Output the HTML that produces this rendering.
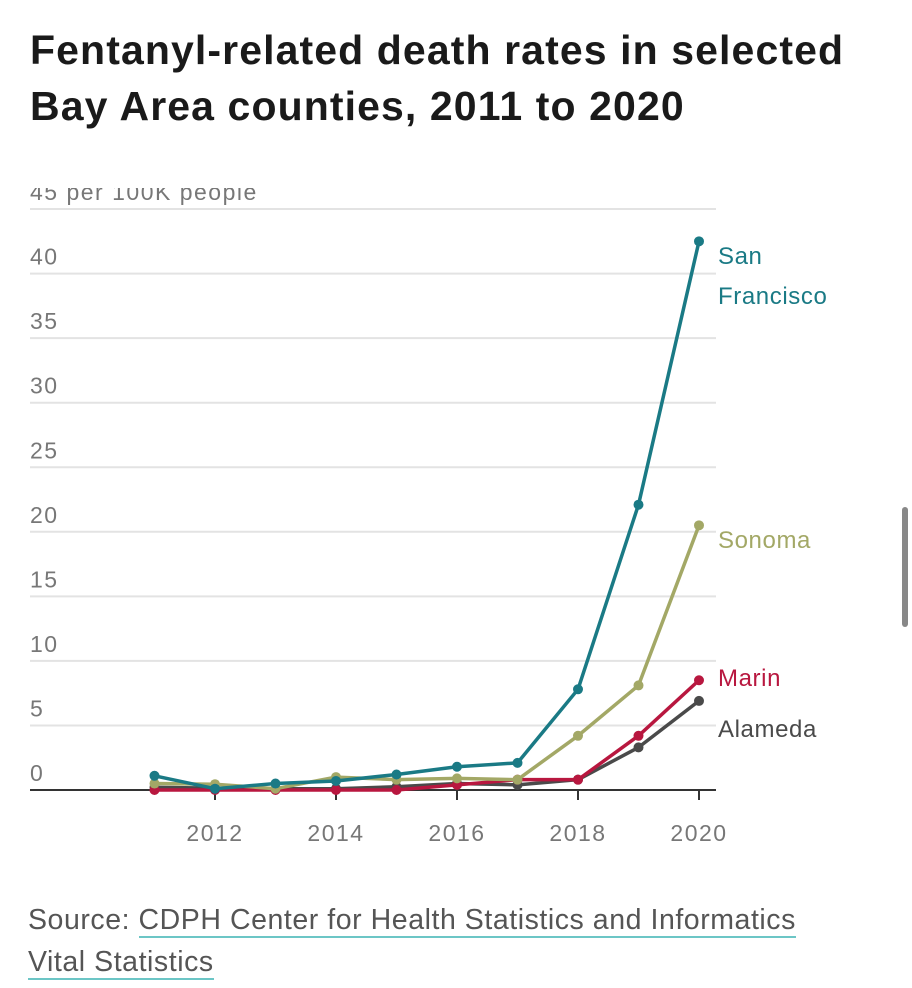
<!DOCTYPE html>
<html><head><meta charset="utf-8"><style>
body{margin:0;width:912px;height:988px;background:#fff;overflow:hidden;font-family:"Liberation Sans",sans-serif;position:relative}
h1{position:absolute;left:30px;top:22px;margin:0;font-size:41px;line-height:56px;font-weight:bold;color:#1a1a1a;letter-spacing:1.1px;width:870px}
.src{position:absolute;left:28px;top:899px;font-size:28.5px;line-height:42px;color:#555;letter-spacing:0.55px}
.src a{color:#555;text-decoration:none;border-bottom:2px solid #6cc6c6}
.sb{position:absolute;left:902px;top:507px;width:6px;height:120px;border-radius:3px;background:#888}
</style></head><body>
<h1>Fentanyl-related death rates in selected<br>Bay Area counties, 2011 to 2020</h1>
<svg id="chart" width="912" height="988" style="position:absolute;left:0;top:0"></svg>
<div class="src">Source: <a>CDPH Center for Health Statistics and Informatics<br>Vital Statistics</a></div>
<div class="sb"></div>
<script>
const years=[2011,2012,2013,2014,2015,2016,2017,2018,2019,2020];
const yTicks=[0,5,10,15,20,25,30,35,40,45];
const xTickLabels=[2012,2014,2016,2018,2020];
const sanFrancisco=[1.1,0.1,0.5,0.7,1.2,1.8,2.1,7.8,22.1,42.5];
const sonoma=[0.5,0.45,0.1,1.0,0.8,0.9,0.8,4.2,8.1,20.5];
const marin=[0,0,0,0,0,0.4,0.8,0.8,4.2,8.5];
const alameda=[0.2,0.15,0.1,0.1,0.25,0.5,0.4,0.8,3.3,6.9];
const NS="http://www.w3.org/2000/svg";
const svg=document.getElementById('chart');
const x=v=>154.5+(v-2011)*60.5;
const y=v=>790-v*12.91;
function mk(t,a,parent){const e=document.createElementNS(NS,t);for(const k in a)e.setAttribute(k,a[k]);(parent||svg).appendChild(e);return e;}
const clip=mk('g',{});
const cp=mk('clipPath',{id:'cp'});mk('rect',{x:0,y:188,width:912,height:690},cp);
clip.setAttribute('clip-path','url(#cp)');
yTicks.forEach(t=>{
 if(t>0){const l=mk('line',{x1:30,x2:716,y1:y(t),y2:y(t),stroke:'#e3e3e3','stroke-width':2},clip);
 }
 const tx=mk('text',{x:30,y:y(t)-9,'font-size':23,fill:'#777','letter-spacing':'1.5'},clip);
 tx.textContent=t===45?'45 per 100K people':String(t);
 
});
const ax=mk('line',{x1:30,x2:716,y1:790,y2:790,stroke:'#333','stroke-width':2});

xTickLabels.forEach(t=>{
 const tk=mk('line',{x1:x(t),x2:x(t),y1:790,y2:800,stroke:'#333','stroke-width':2});
 
 const tx=mk('text',{x:x(t),y:841,'font-size':23,fill:'#777','text-anchor':'middle','letter-spacing':'1.5'});
 tx.textContent=t;
 
});
const series=[[alameda,'#4a4a4a','alameda'],[marin,'#b8173f','marin'],[sonoma,'#a3a866','sonoma'],[sanFrancisco,'#1a7a85','san-francisco']];
series.forEach(([d,c,n])=>{
 const p=mk('polyline',{points:d.map((v,i)=>x(years[i])+','+y(v)).join(' '),fill:'none',stroke:c,'stroke-width':3.5,'stroke-linejoin':'round'});
 
 d.forEach((v,i)=>{const pt=mk('circle',{cx:x(years[i]),cy:y(v),r:5,fill:c});
  });
});
const labels=[['San',718,264,'#1a7a85'],['Francisco',718,304,'#1a7a85'],['Sonoma',718,548,'#a3a866'],['Marin',718,686,'#b8173f'],['Alameda',718,737,'#4a4a4a']];
labels.forEach(([t,lx,ly,c])=>{const e=mk('text',{x:lx,y:ly,'font-size':24,fill:c,'letter-spacing':'0.6'});e.textContent=t;
 });
</script>
</body></html>
